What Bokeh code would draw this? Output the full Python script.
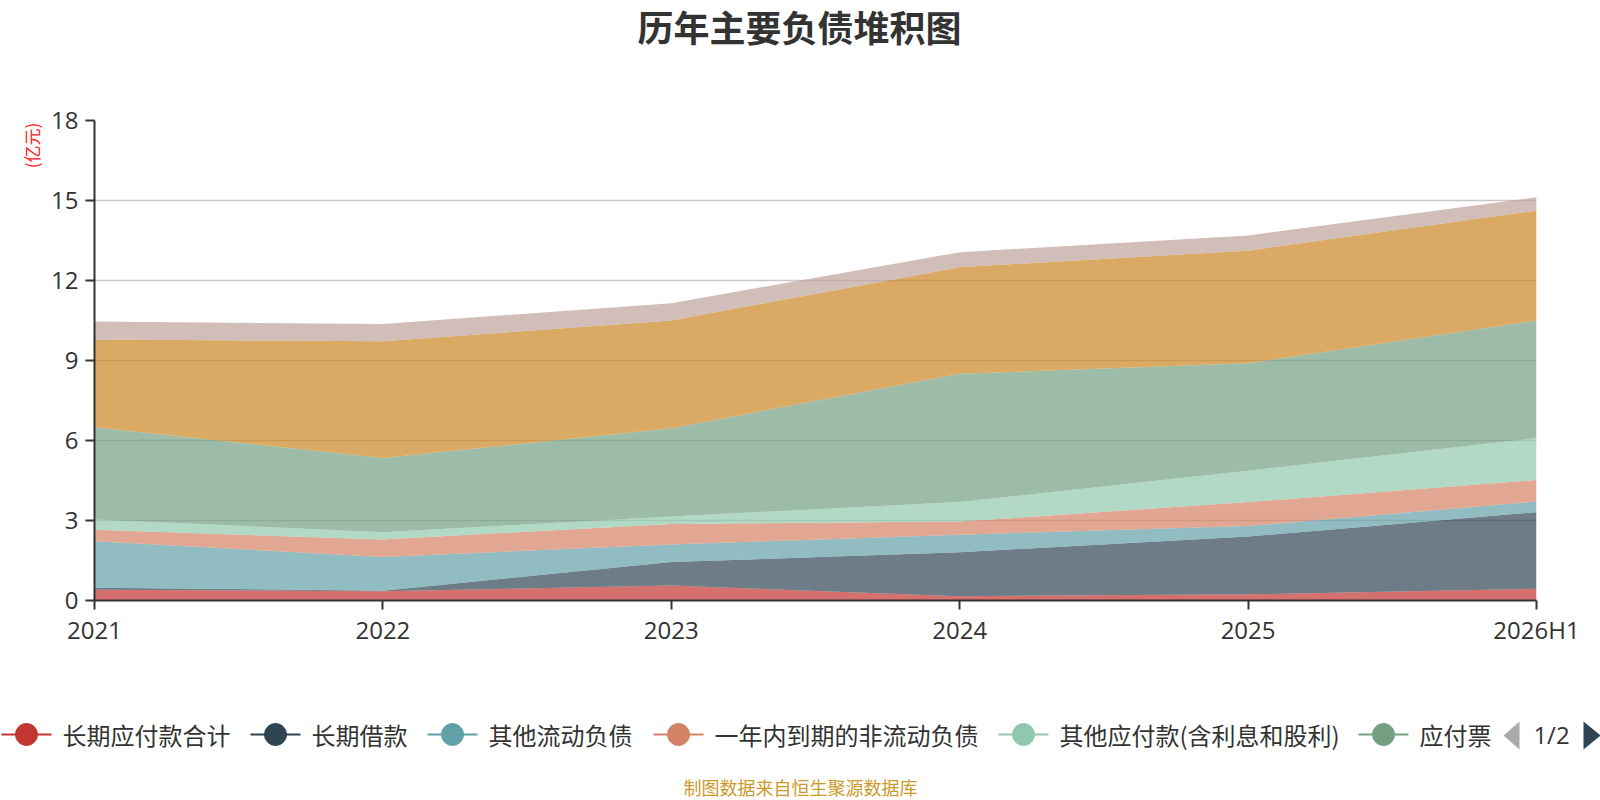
import math
from bokeh.plotting import figure
from bokeh.models import ColumnDataSource, Range1d, FixedTicker
from bokeh.layouts import column, row
from bokeh.embed import file_html
from bokeh.resources import INLINE
from bokeh.core.properties import value

# ---------------- data ----------------
categories = ["2021", "2022", "2023", "2024", "2025", "2026H1"]
series_names = ["长期应付款合计", "长期借款", "其他流动负债", "一年内到期的非流动负债",
                "其他应付款(含利息和股利)", "应付票据", "应付账款", "合同负债"]
long_payable = [0.40, 0.35, 0.56, 0.16, 0.23, 0.44]
long_loan = [0.08, 0.02, 0.88, 1.65, 2.17, 2.87]
other_current = [1.74, 1.26, 0.66, 0.66, 0.39, 0.40]
noncurrent_due = [0.43, 0.66, 0.77, 0.49, 0.90, 0.81]
other_payable = [0.39, 0.27, 0.28, 0.73, 1.18, 1.57]
notes_payable = [3.46, 2.78, 3.31, 4.81, 4.03, 4.41]
accounts_payable = [3.29, 4.38, 4.04, 4.00, 4.22, 4.12]
contract_liab = [0.67, 0.65, 0.65, 0.56, 0.57, 0.50]
y_ticks = [0, 3, 6, 9, 12, 15, 18]
colors = ["#c23531", "#2f4554", "#61a0a8", "#d48265", "#91c7ae", "#749f83", "#ca8622", "#bda29a"]
visible_legend = 6  # first legend page shows 6 items, the 6th cut off
legend_labels = series_names[:5] + [series_names[5][:3]]
page_text = "1/2"
unit_text = "(亿元)"
title_text = "历年主要负债堆积图"
footer_text = "制图数据来自恒生聚源数据库"

series_values = [long_payable, long_loan, other_current, noncurrent_due,
                 other_payable, notes_payable, accounts_payable, contract_liab]

# ---------------- layout constants ----------------
W, H = 1600, 800
TOP_H = 100          # title strip
MID_H = 590          # chart strip
BOT_H = H - TOP_H - MID_H  # legend + footer strip
UNIT_W = 48
CJK = "Noto Sans CJK SC"
LATIN = "Open Sans"
TXT = "#333333"


def no_align(fig):
    if "frame_align" in type(fig).properties():
        fig.frame_align = False


def blank(width, height, xr, yr):
    f = figure(width=width, height=height, x_range=xr, y_range=yr,
               output_backend="svg", toolbar_location=None, min_border=0,
               x_axis_type=None, y_axis_type=None)
    f.outline_line_color = None
    f.grid.visible = False
    no_align(f)
    return f

# ---------------- title strip ----------------
t = blank(W, TOP_H, Range1d(0, W), Range1d(TOP_H, 0))
t.text(x=[799], y=[25], text=[title_text], text_font=value(CJK), text_font_size="36px",
       text_font_style="bold", text_color=TXT, text_align="center", text_baseline="middle")

# ---------------- unit label strip ----------------
u = blank(UNIT_W, MID_H, Range1d(0, UNIT_W), Range1d(0, MID_H))
u.text(x=[31], y=[MID_H - 45], text=[unit_text], text_font=value(CJK), text_font_size="17px",
       text_color="#ff2020", text_align="center", text_baseline="middle", angle=math.pi / 2)

# ---------------- main chart ----------------
keys = [f"s{i}" for i in range(len(series_names))]
data = {"x": list(range(len(categories)))}
for k, v in zip(keys, series_values):
    data[k] = v
source = ColumnDataSource(data)

p = figure(width=W - UNIT_W, height=MID_H,
           x_range=Range1d(0, len(categories) - 1), y_range=Range1d(0, 18),
           output_backend="svg", toolbar_location=None,
           min_border_left=93 - UNIT_W, min_border_right=64,
           min_border_top=20, min_border_bottom=90)
no_align(p)
p.outline_line_color = None

p.varea_stack(stackers=keys, x="x", color=colors, fill_alpha=0.7, source=source)

p.xaxis.ticker = FixedTicker(ticks=list(range(len(categories))))
p.xaxis.major_label_overrides = {i: c for i, c in enumerate(categories)}
p.yaxis.ticker = FixedTicker(ticks=y_ticks)
for ax in (p.xaxis, p.yaxis):
    ax.axis_line_color = TXT
    ax.axis_line_width = 2
    ax.major_tick_line_color = TXT
    ax.major_tick_line_width = 2
    ax.major_tick_in = 0
    ax.major_tick_out = 9
    ax.minor_tick_line_color = None
    ax.major_label_text_font = LATIN
    ax.major_label_text_font_size = "24px"
    ax.major_label_text_color = TXT
p.xaxis.major_label_standoff = 3
p.yaxis.major_label_standoff = 7
p.xgrid.visible = False
p.ygrid.grid_line_color = "#c8c8c8"
p.ygrid.grid_line_width = 1.5

# ---------------- legend + footer strip ----------------
q = blank(W, BOT_H, Range1d(0, W), Range1d(BOT_H, 0))
icon_starts = [1, 250, 427, 653, 998, 1358]
LY = 734 - (TOP_H + MID_H)
for i in range(visible_legend):
    a = icon_starts[i]
    q.segment(x0=a, y0=LY, x1=a + 50, y1=LY, line_color=colors[i], line_width=2)
    q.scatter(x=[a + 25], y=[LY], size=22, fill_color=colors[i], line_color=colors[i])
    q.text(x=[a + 61], y=[LY], text=[legend_labels[i]], text_font=value(CJK),
           text_font_size="24px", text_color=TXT, text_baseline="middle", text_align="left")

q.patch(x=[1503, 1519, 1519], y=[LY + 1, LY - 13, LY + 15], fill_color="#aaaaaa", line_color=None)
q.patch(x=[1583, 1583, 1600], y=[LY - 13, LY + 15, LY + 1], fill_color="#2f4554", line_color=None)
q.text(x=[1551], y=[LY], text=[page_text], text_font=value(LATIN), text_font_size="24px",
       text_color=TXT, text_align="center", text_baseline="middle")

q.text(x=[800], y=[786 - (TOP_H + MID_H)], text=[footer_text], text_font=value(CJK),
       text_font_size="18px", text_color="#cc9a2a", text_align="center", text_baseline="middle")

layout = column(t, row(u, p, spacing=0), q, spacing=0)
open("out.html", "w").write(file_html(layout, INLINE))
